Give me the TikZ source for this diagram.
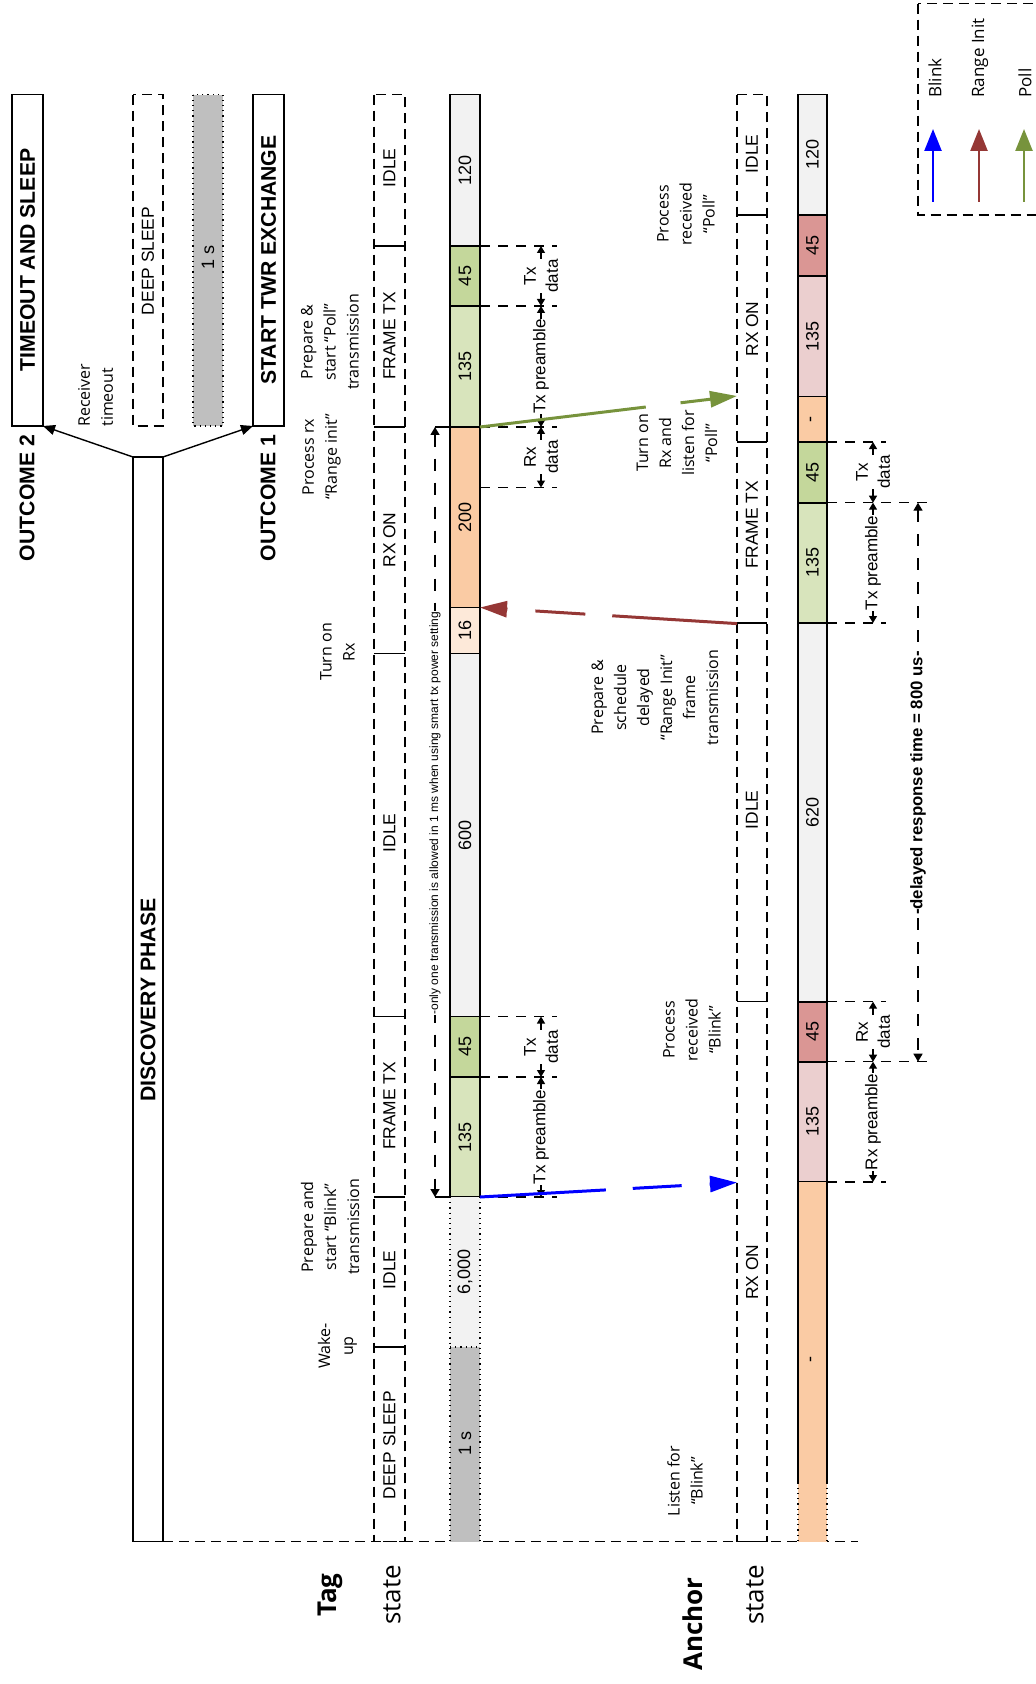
\documentclass[tikz,border=0pt]{standalone}
\usepackage{fontspec}
\setmainfont{Liberation Sans}
\newfontfamily\osans{Open Sans}
\usetikzlibrary{arrows.meta}
\definecolor{cgray}{HTML}{F2F2F2}
\definecolor{cdgray}{HTML}{BFBFBF}
\definecolor{cgreen}{HTML}{C4D79B}
\definecolor{clgreen}{HTML}{D8E4BC}
\definecolor{cpeach}{HTML}{FACBA4}
\definecolor{clpeach}{HTML}{FDE9D9}
\definecolor{cred}{HTML}{DA9694}
\definecolor{cpink}{HTML}{EBCFCF}
\definecolor{ablue}{HTML}{0000FF}
\definecolor{ared}{HTML}{953735}
\definecolor{agreen}{HTML}{77933C}
\tikzset{
 bar/.style={draw=black, line width=0.8pt},
 stbox/.style={draw=black, dash pattern=on 5pt off 3pt, line width=0.7pt},
 ext/.style={dash pattern=on 5pt off 4pt, line width=0.6pt},
 dimarr/.style={{Triangle[length=3.5pt,width=4pt]}-{Triangle[length=3.5pt,width=4pt]}, line width=0.6pt},
 longdim/.style={{Triangle[length=4pt,width=4.5pt]}-{Triangle[length=4pt,width=4.5pt]}, line width=0.7pt, dash pattern=on 6pt off 6pt},
 rot/.style={rotate=90, inner sep=0.5pt},
 st/.style={rot, font=\fontsize{8.7}{10}\selectfont},
 num/.style={rot, font=\fontsize{9}{10}\selectfont},
 ttl/.style={rot, font=\bfseries\fontsize{10.6}{12}\selectfont},
 ann/.style={rot, align=center, font=\osans\fontsize{8}{11.5}\selectfont},
 dlab/.style={rot, align=center, fill=white, inner sep=0.2pt, font=\fontsize{8.5}{11}\selectfont},
 big/.style={rot, font=\osans\fontsize{13}{15}\selectfont},
 sig/.style={line width=1.5pt, -{Triangle[length=13.5pt,width=8pt]}},
 leg/.style={line width=1.2pt, -{Triangle[length=11pt,width=8.5pt]}},
 outarr/.style={line width=0.7pt, -{Triangle[length=6pt,width=5pt]}},
}
\begin{document}
\begin{tikzpicture}[x=0.5pt,y=-0.5pt]
\useasboundingbox (0,0) rectangle (1035,1684);

% ---------- outcome boxes ----------
\draw[bar] (12,94.6) rectangle (43,426);
\node[ttl] (tos) at (27.5,260) {TIMEOUT AND SLEEP};
\draw[bar] (253,94.6) rectangle (284,426);
\node[ttl] (stw) at (268.5,260) {START TWR EXCHANGE};
\node[ttl] (oc2) at (27,498) {OUTCOME 2};
\node[ttl] (oc1) at (268,498) {OUTCOME 1};
\draw[stbox] (133,94.6) rectangle (163,426);
\node[st] (dstop) at (148,261) {DEEP SLEEP};
\fill[cdgray] (193,94.6) rectangle (223,426);
\draw[dotted, line width=0.6pt] (193,94.6) rectangle (223,426);
\node[num] (onestop) at (208,257) {1 s};
\node[ann, align=left, anchor=west, inner sep=0pt] (rcvto) at (95.5,427) {Receiver\\timeout};

% ---------- discovery box ----------
\draw[bar] (133,457) rectangle (163,1541.5);
\node[ttl] (disc) at (148,1000) {DISCOVERY PHASE};
\coordinate (dL) at (133,457);
\coordinate (dR) at (163,457);
\coordinate (o2) at (43,426);
\coordinate (o1) at (253,426);
\draw[outarr] (dL) -- (o2);
\draw[outarr] (dR) -- (o1);

% ---------- baseline ----------
\draw[stbox] (163,1541.5) -- (858,1541.5);

% ---------- tag state box ----------
\draw[stbox] (374,94.6) rectangle (405,1541.5);
\foreach \y in {246,427,653.6,1016.5,1197,1347} \draw[line width=0.6pt] (374,\y) -- (405,\y);
\foreach \y/\t [count=\i] in {168/IDLE, 336/FRAME TX, 540/RX ON, 833/IDLE, 1106/FRAME TX, 1270/IDLE, 1445/DEEP SLEEP}
  \node[st] (ts\i) at (389.5,\y) {\t};

% ---------- tag bar ----------
\foreach \ya/\yb/\c/\t [count=\i] in {94.6/246/cgray/120, 246/306/cgreen/45, 306/427/clgreen/135, 427/607.5/cpeach/200, 607.5/653.6/clpeach/16, 653.6/1016.5/cgray/600, 1016.5/1077/cgreen/45, 1077/1197/clgreen/135}{
  \draw[bar, fill=\c] (450,\ya) rectangle (480,\yb);
  \node[num] (tb\i) at (465,{(\ya+\yb)/2}) {\t};
}
\fill[cgray] (450,1197) rectangle (480,1347);
\fill[cdgray] (450,1347) rectangle (480,1541.5);
\draw[dotted, line width=0.6pt] (450,1197) -- (450,1541.5) (480,1197) -- (480,1541.5) (450,1347) -- (480,1347);
\node[num] (tb9) at (465,1272) {6,000};
\node[num] (tb10) at (465,1443) {1 s};

% ---------- anchor state box ----------
\draw[stbox] (737,94.6) rectangle (767,1541.5);
\foreach \y in {215,442,623,1001.7} \draw[line width=0.6pt] (737,\y) -- (767,\y);
\foreach \y/\t [count=\i] in {154/IDLE, 329/RX ON, 525/FRAME TX, 810/IDLE, 1272/RX ON}
  \node[st] (as\i) at (752,\y) {\t};

% ---------- anchor bar ----------
\foreach \ya/\yb/\c/\t [count=\i] in {94.6/215/cgray/120, 215/276/cred/45, 276/396.5/cpink/135, 396.5/442/cpeach/-, 442/502.7/cgreen/45, 502.7/623/clgreen/135, 623/1001.7/cgray/620, 1001.7/1061.7/cred/45, 1061.7/1182/cpink/135}{
  \draw[bar, fill=\c] (798,\ya) rectangle (827,\yb);
  \node[num] (ab\i) at (812.5,{(\ya+\yb)/2}) {\t};
}
\fill[cpeach] (798,1182) rectangle (827,1541.5);
\draw[bar] (798,1182) -- (798,1482.5) (827,1182) -- (827,1482.5);
\draw[dotted, line width=0.6pt] (798,1482.5) -- (798,1541.5) (827,1482.5) -- (827,1541.5);
\node[num] (ab10) at (812.5,1359) {-};

% ---------- tag dimension lines ----------
\foreach \y in {246,306,427,487.5,1016.5,1077,1197} \draw[ext] (480,\y) -- (557,\y);
\draw[dimarr] (541,246) -- (541,306);
\node[dlab] (tdA) at (541,276) {Tx\\data};
\draw[dimarr] (541,306) -- (541,427);
\node[dlab] (tdB) at (541,366.5) {Tx preamble};
\draw[dimarr] (541,427) -- (541,487.5);
\node[dlab] (tdC) at (541,457) {Rx\\data};
\draw[dimarr] (541,1016.5) -- (541,1077);
\node[dlab] (tdD) at (541,1047) {Tx\\data};
\draw[dimarr] (541,1077) -- (541,1197);
\node[dlab] (tdE) at (541,1137) {Tx preamble};

\draw[line width=0.6pt] (435,427) -- (450,427) (435,1197) -- (450,1197);
\draw[longdim] (435,427) -- (435,1197);
\node[rot, fill=white, font=\fontsize{6}{7}\selectfont] (oneonly) at (435,813) {-only one transmission is allowed in 1 ms when using smart tx power setting};

% ---------- anchor dimension lines ----------
\foreach \y in {442,623,1001.7,1182} \draw[ext] (827,\y) -- (886,\y);
\foreach \y in {502.7,1061.7} \draw[ext] (827,\y) -- (932,\y);
\draw[dimarr] (873,442) -- (873,502.7);
\node[dlab] (adA) at (873,472) {Tx\\data};
\draw[dimarr] (873,502.7) -- (873,623);
\node[dlab] (adB) at (873,563) {Tx preamble};
\draw[dimarr] (873,1001.7) -- (873,1061.7);
\node[dlab] (adC) at (873,1032) {Rx\\data};
\draw[dimarr] (873,1061.7) -- (873,1182);
\node[dlab] (adD) at (873,1122) {Rx preamble};
\draw[longdim] (918,502.7) -- (918,1061.7);
\node[rot, fill=white, font=\bfseries\fontsize{8.4}{9}\selectfont] (delay) at (918,783) {-delayed response time = 800 us-};

% ---------- annotations ----------
\node[ann] (n1) at (330,342) {Prepare \&\\start “Poll”\\transmission};
\node[ann] (n2) at (321.5,457) {Process rx\\“Range init”};
\node[ann] (n3) at (337.5,652) {Turn on\\Rx};
\node[ann] (n4) at (330,1227) {Prepare and\\start “Blink”\\transmission};
\node[ann] (n5) at (337.5,1346) {Wake-\\up};
\node[ann] (n6) at (686,214) {Process\\received\\“Poll”};
\node[ann] (n7) at (677,443) {Turn on\\Rx and\\listen for\\“Poll”};
\node[ann] (n8) at (655,697.5) {Prepare \&\\schedule\\delayed\\“Range Init”\\frame\\transmission};
\node[ann] (n9) at (692,1030) {Process\\received\\“Blink”};
\node[ann] (n10) at (685,1481) {Listen for\\“Blink”};

% ---------- row labels ----------
\node[big, font=\osans\bfseries\fontsize{13}{15}\selectfont] (tag) at (330,1595) {Tag};
\node[big] (tagst) at (392,1595) {state};
\node[big, font=\osans\bfseries\fontsize{13}{15}\selectfont] (anc) at (693,1624) {Anchor};
\node[big] (ancst) at (755,1595) {state};

% ---------- signals ----------
\coordinate (pollS) at (480,427);
\coordinate (pollE) at (737,396);
\coordinate (riS) at (737,623.6);
\coordinate (riE) at (480,607.5);
\coordinate (blS) at (480,1197);
\coordinate (blE) at (737,1182.5);
\draw[sig, agreen, dash pattern=on 83.5pt off 17.5pt on 30pt off 0.1pt] (pollS) -- (pollE);
\draw[sig, ared, dash pattern=on 62.5pt off 13.5pt on 25pt off 14pt] (riS) -- (riE);
\draw[sig, ablue, dash pattern=on 63pt off 13.5pt on 24.5pt off 14pt] (blS) -- (blE);

% ---------- legend ----------
\draw[stbox] (918,3.6) rectangle (1060,215);
\coordinate (lb0) at (933,202); \coordinate (lb1) at (933,129);
\coordinate (lr0) at (979,202); \coordinate (lr1) at (979,129);
\coordinate (lg0) at (1024,202); \coordinate (lg1) at (1024,129);
\draw[leg, ablue] (lb0) -- (lb1);
\draw[leg, ared] (lr0) -- (lr1);
\draw[leg, agreen] (lg0) -- (lg1);
\node[rot, anchor=west, inner sep=0pt, font=\osans\fontsize{8.5}{9}\selectfont] (lgb) at (935,98) {Blink};
\node[rot, anchor=west, inner sep=0pt, font=\osans\fontsize{8.5}{9}\selectfont] (lgr) at (980,98) {Range Init};
\node[rot, anchor=west, inner sep=0pt, font=\osans\fontsize{8.5}{9}\selectfont] (lgg) at (1025,98) {Poll};
\end{tikzpicture}
\end{document}
